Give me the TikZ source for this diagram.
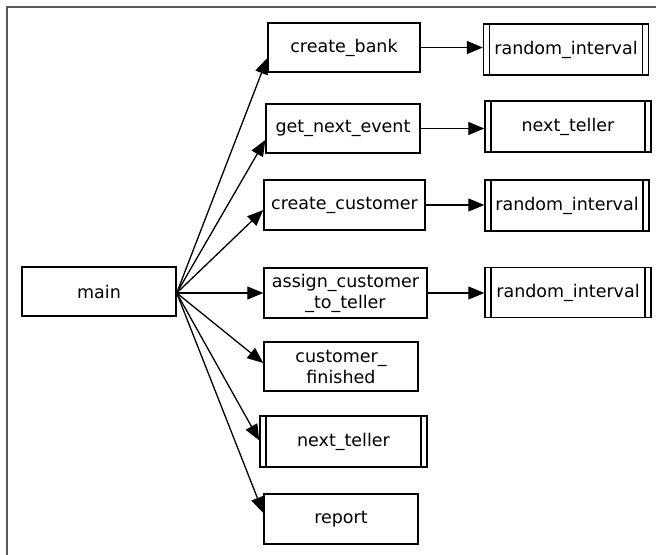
\documentclass[tikz,border=0pt]{standalone}
\usepackage{fontspec}
\setmainfont{DejaVu Sans}
\usetikzlibrary{arrows.meta}
\tikzset{
  box/.style={draw, line width=1.4bp, rectangle, inner sep=0pt, align=center,
    font=\fontsize{17.5bp}{21bp}\selectfont},
  libbox/.style={box, path picture={
    \draw[line width=1.4bp] ([xshift=6bp]path picture bounding box.north west) -- ([xshift=6bp]path picture bounding box.south west);
    \draw[line width=1.4bp] ([xshift=-6bp]path picture bounding box.north east) -- ([xshift=-6bp]path picture bounding box.south east);}},
  call/.style={line width=1.3bp, -{Triangle[length=16bp,width=13bp]}},
}
\begin{document}
\begin{tikzpicture}[x=1bp,y=-1bp]
\useasboundingbox (0,0) rectangle (656,555);
\draw[line width=1.5bp, black!65] (7,555) -- (7,7) -- (656,7);
% left column
\node[box, minimum width=154bp, minimum height=49bp] (main) at (99,291.5) {main};
% middle column
\node[box, minimum width=152bp, minimum height=49bp] (cb) at (344,47.5) {create\_bank};
\node[box, minimum width=154bp, minimum height=49bp] (gne) at (343,128.5) {get\_next\_event};
\node[box, minimum width=161bp, minimum height=50bp] (cc) at (344.5,205) {create\_customer};
\node[box, minimum width=163bp, minimum height=50bp] (as) at (345.5,293) {assign\_customer\\\_to\_teller};
\node[box, minimum width=154bp, minimum height=49bp] (cf) at (341,366.5) {customer\_\\finished};
\node[libbox, minimum width=167bp, minimum height=51bp] (nt2) at (343.5,441.5) {next\_teller};
\node[box, minimum width=154bp, minimum height=50bp] (rep) at (341,519) {report};
% right column
\node[libbox, minimum width=165bp, minimum height=51bp] (ri1) at (566,49.5) {random\_interval};
\node[libbox, minimum width=166bp, minimum height=51bp] (nt1) at (568,126.5) {next\_teller};
\node[libbox, minimum width=164bp, minimum height=51bp] (ri2) at (567,205.5) {random\_interval};
\node[libbox, minimum width=166bp, minimum height=50bp] (ri3) at (568,292.5) {random\_interval};
% connectors from main
\coordinate (hub) at ([yshift=-1.5bp]main.east);
\draw[call] (hub) -- ([yshift=-10.5bp]cb.west);
\draw[call] (hub) -- ([yshift=-11.5bp]gne.west);
\draw[call] (hub) -- ([yshift=-5bp]cc.west);
\draw[call] (hub) -- (hub -| as.west);
\draw[call] (hub) -- ([yshift=3.5bp]cf.west);
\draw[call] (hub) -- ([yshift=1bp]nt2.west);
\draw[call] (hub) -- ([yshift=6bp]rep.west);
% horizontal connectors
\draw[call] (cb.east) -- (cb.east -| ri1.west);
\draw[call] (gne.east) -- (gne.east -| nt1.west);
\draw[call] (cc.east) -- (cc.east -| ri2.west);
\draw[call] (as.east) -- (as.east -| ri3.west);
\end{tikzpicture}
\end{document}
